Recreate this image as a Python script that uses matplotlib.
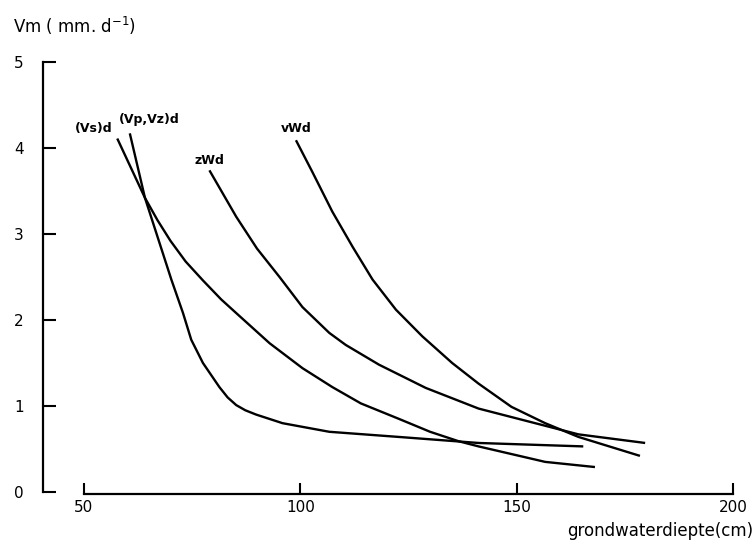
import matplotlib
matplotlib.use("Agg")
import matplotlib.pyplot as plt

# waarden (grondwaterdiepte in cm, Vm in mm/d)
vs_x = [57.7, 64.1, 67.0, 70.0, 73.5, 77.5, 81.7, 85.2, 92.9, 100.5, 107.4, 114.0, 122.8, 130.0, 136.6, 141.2, 156.6, 168.1]
vs_y = [4.11, 3.42, 3.16, 2.92, 2.68, 2.46, 2.24, 2.08, 1.73, 1.44, 1.22, 1.03, 0.85, 0.70, 0.59, 0.53, 0.35, 0.29]

vpvz_x = [60.6, 64.1, 70.2, 72.9, 74.8, 77.5, 81.3, 83.2, 85.2, 87.3, 89.8, 95.9, 106.7, 122.8, 141.2, 165.4]
vpvz_y = [4.17, 3.42, 2.47, 2.08, 1.77, 1.50, 1.22, 1.10, 1.01, 0.95, 0.90, 0.80, 0.70, 0.64, 0.57, 0.53]

zwd_x = [79.0, 85.2, 90.0, 95.2, 100.5, 106.7, 110.5, 118.2, 129.0, 141.2, 156.6, 164.3, 179.7]
zwd_y = [3.74, 3.20, 2.83, 2.50, 2.15, 1.85, 1.71, 1.48, 1.21, 0.97, 0.77, 0.67, 0.57]

vwd_x = [99.0, 102.8, 107.4, 112.1, 116.7, 122.1, 128.2, 135.1, 141.2, 148.8, 156.6, 164.3, 178.5]
vwd_y = [4.09, 3.72, 3.26, 2.85, 2.47, 2.12, 1.81, 1.50, 1.26, 0.99, 0.80, 0.64, 0.42]

labels = ["(Vs)d", "(Vp,Vz)d", "zWd", "vWd"]
label_x = [52.2, 65.2, 79.0, 99.1]
label_y = [4.23, 4.33, 3.86, 4.23]

x_ticks = [50, 100, 150, 200]
y_ticks = [0, 1, 2, 3, 4, 5]

fig = plt.figure(figsize=(7.56, 5.44), dpi=100)
ax = fig.add_axes([0.0538, 0.0877, 0.9272, 0.8142])

for xs, ys in [(vs_x, vs_y), (vpvz_x, vpvz_y), (zwd_x, zwd_y), (vwd_x, vwd_y)]:
    ax.plot(xs, ys, color="black", lw=1.7, solid_capstyle="butt", solid_joinstyle="round")

for t, lx, ly in zip(labels, label_x, label_y):
    ax.text(lx, ly, t, ha="center", va="center", fontsize=9, fontweight="bold")

ax.set_xlim(40, 202)
ax.set_ylim(-0.05, 5.1)

ax.spines["top"].set_visible(False)
ax.spines["right"].set_visible(False)
ax.spines["left"].set_position(("data", 40.64))
ax.spines["bottom"].set_position(("data", -0.023))
ax.spines["left"].set_bounds(0, 5)
ax.spines["bottom"].set_bounds(50, 200)
ax.spines["left"].set_linewidth(1.6)
ax.spines["bottom"].set_linewidth(1.6)

ax.set_xticks(x_ticks)
ax.set_yticks(y_ticks)
ax.tick_params(axis="x", direction="in", length=8, width=1.5, pad=4, labelsize=11)
ax.tick_params(axis="y", direction="in", length=9, width=1.5, pad=14, labelsize=11)

fig.text(13 / 756, 1 - 33 / 544, "Vm ( mm. d$^{-1}$)", ha="left", va="baseline", fontsize=12)
fig.text(753 / 756, 1 - 536 / 544, "grondwaterdiepte(cm)", ha="right", va="baseline", fontsize=12)

fig.savefig("out.png", dpi=100)
